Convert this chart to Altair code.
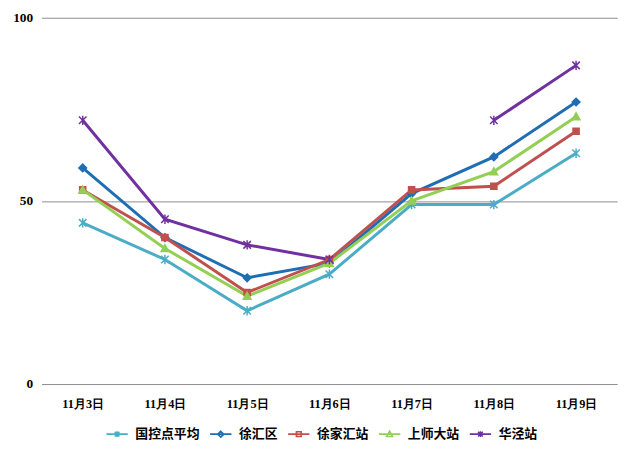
import altair as alt
import pandas as pd

dates = ["11月3日", "11月4日", "11月5日", "11月6日", "11月7日", "11月8日", "11月9日"]
series = ["国控点平均", "徐汇区", "徐家汇站", "上师大站", "华泾站"]
v_avg = [44, 34, 20, 30, 49, 49, 63]
v_xh = [59, 40, 29, 33, 52, 62, 77]
v_xjh = [53, 40, 25, 34, 53, 54, 69]
v_ssd = [53, 37, 24, 33, 50, 58, 73]
v_hj = [72, 45, 38, 34, None, 72, 87]
colors = ["#4BACC6", "#1F6DB3", "#C0504D", "#92CF54", "#7030A0"]

star = "M-0.8,-0.8L0.8,0.8M-0.8,0.8L0.8,-0.8M0,-1L0,1"
marker_paths = [
    star,
    "M0,-1L1,0L0,1L-1,0Z",
    "M-0.8,-0.8L0.8,-0.8L0.8,0.8L-0.8,0.8Z",
    "M0,-1L1,0.8L-1,0.8Z",
    star,
]
line_seg = "M-3.6,0L3.6,0"
legend_paths = [line_seg + p for p in marker_paths]

values = [v_avg, v_xh, v_xjh, v_ssd, v_hj]
rows = []
for s, vals in zip(series, values):
    for d, v in zip(dates, vals):
        rows.append({"date": d, "series": s, "value": v})
df = pd.DataFrame(rows)

base = alt.Chart(df).encode(
    x=alt.X("date:N", sort=dates, title=None,
            scale=alt.Scale(type="point", padding=0.5),
            axis=alt.Axis(labelAngle=0, domain=False, ticks=False, grid=False, labelPadding=14,
                          labelFont="Liberation Serif", labelFontSize=12.5,
                          labelFontWeight="bold", labelColor="#000000")),
    y=alt.Y("value:Q", title=None,
            scale=alt.Scale(domain=[0, 100]),
            axis=alt.Axis(values=[0, 50, 100], domain=False, ticks=False, labelPadding=9,
                          labelFont="Liberation Serif", labelFontSize=13.5,
                          labelFontWeight="bold", labelColor="#000000",
                          grid=True, gridColor="#8c8c8c", gridWidth=1)),
)

layers = []
for s, c in zip(series, colors):
    layers.append(
        base.transform_filter(alt.datum.series == s)
        .mark_line(color=c, strokeWidth=3, invalid="break-paths-filter-domains")
    )
for s, c, p in zip(series, colors, marker_paths):
    filled = p != star
    layers.append(
        base.transform_filter(alt.datum.series == s)
        .transform_filter(alt.datum.value != None)
        .mark_point(shape=p, color=c, filled=filled, size=60 if filled else 90,
                    strokeWidth=1.5, opacity=1, fill=c if filled else "transparent", stroke=c)
    )

legend_df = pd.DataFrame({"series": series})
legend_layer = alt.Chart(legend_df).mark_point(opacity=0, filled=True).encode(
    color=alt.Color("series:N", scale=alt.Scale(domain=series, range=colors),
                    legend=alt.Legend(title=None, orient="none", direction="horizontal",
                                      legendX=58, legendY=415,
                                      symbolOpacity=1, symbolSize=36, symbolStrokeWidth=1.6,
                                      symbolOffset=12, labelOffset=12, columnPadding=2,
                                      labelFont="Noto Sans CJK SC", labelFontSize=13,
                                      labelFontWeight="bold", labelColor="#000000")),
    stroke=alt.Stroke("series:N", scale=alt.Scale(domain=series, range=colors)),
    shape=alt.Shape("series:N", scale=alt.Scale(domain=series, range=legend_paths)),
)
layers.append(legend_layer)

chart = alt.layer(*layers).properties(
    width=583, height=371,
    background="#ffffff",
    autosize=alt.AutoSizeParams(type="none"),
    padding={"left": 34, "top": 7, "right": 15, "bottom": 70},
).configure_view(stroke=None)

chart.save("out.html", embed_options={"renderer": "svg", "actions": False})
